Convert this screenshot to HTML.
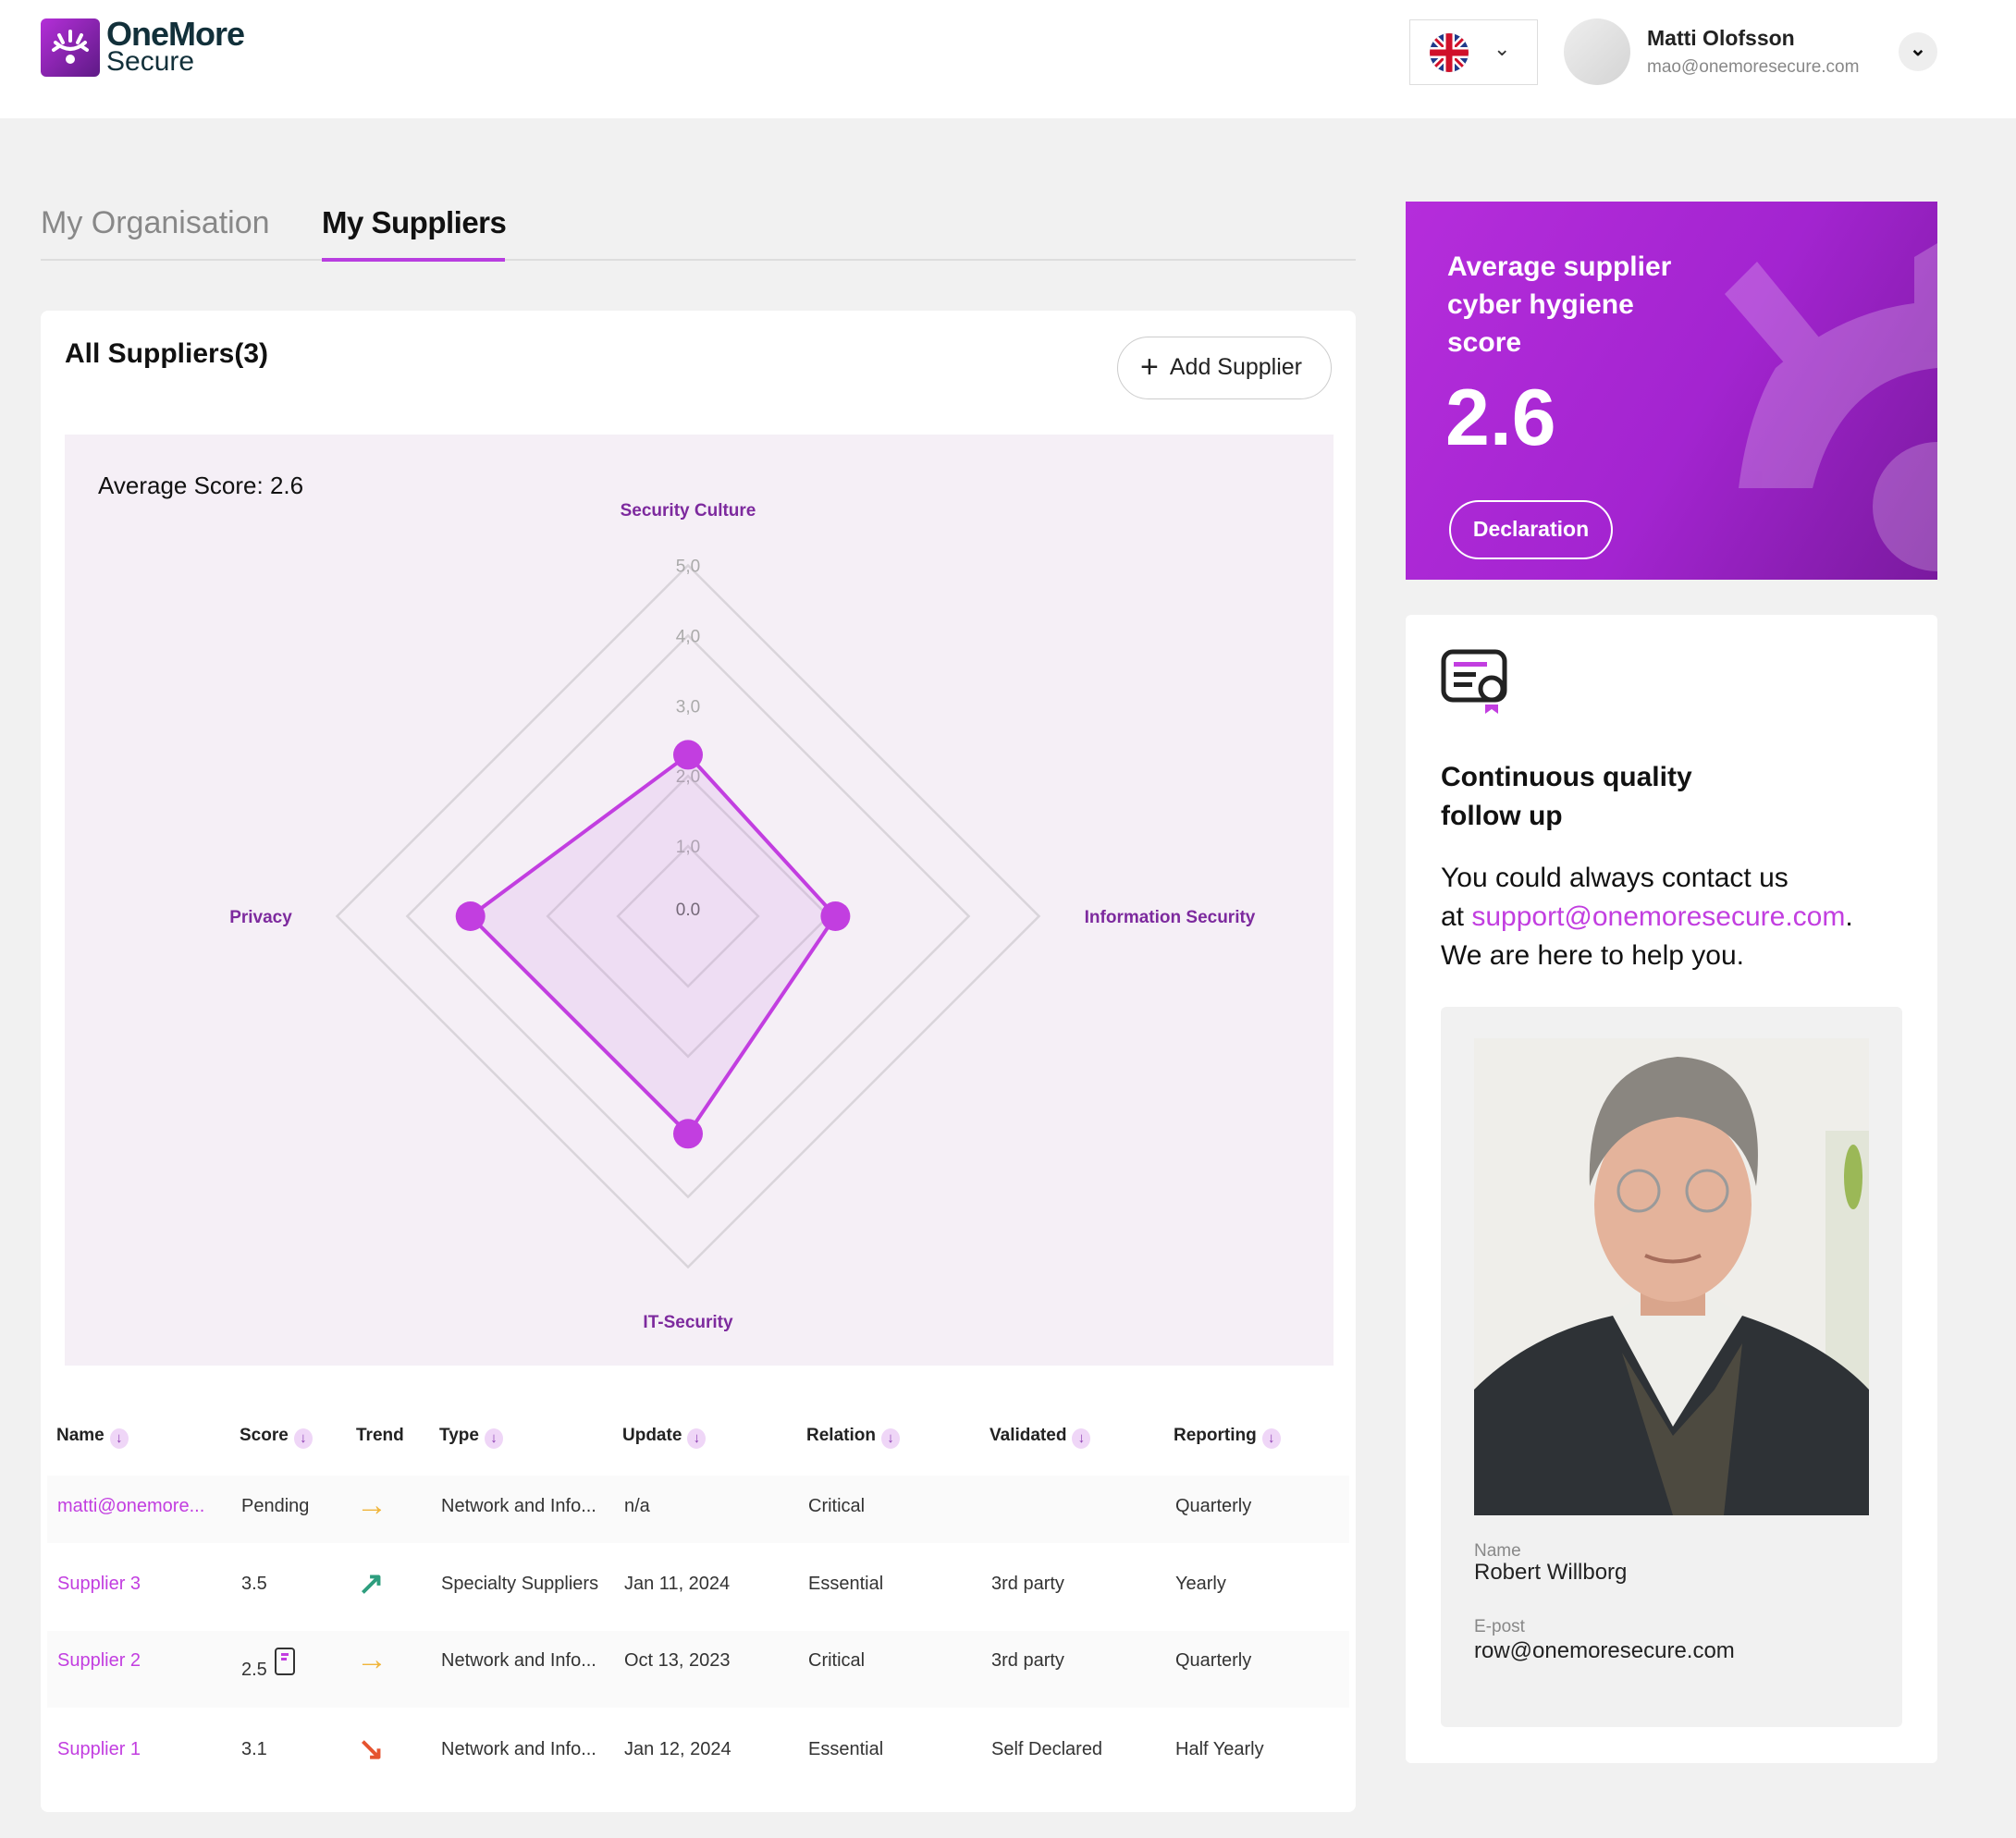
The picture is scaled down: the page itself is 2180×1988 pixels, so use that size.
<!DOCTYPE html>
<html><head><meta charset="utf-8">
<style>
*{box-sizing:border-box;margin:0;padding:0}
body{width:2180px;height:1988px;background:#f1f1f1;font-family:"Liberation Sans",sans-serif;color:#111;position:relative;overflow:hidden}
.abs{position:absolute}
.hdr{left:0;top:0;width:2180px;height:128px;background:#fff}
.th{position:absolute;top:1542px;font-size:19px;font-weight:bold;color:#222;white-space:nowrap}
.th .s{display:inline-block;width:20px;height:22px;border-radius:50%;background:#efd6f7;color:#8a3ab0;font-size:15px;text-align:center;line-height:22px;margin-left:6px;vertical-align:-2px}
.td{position:absolute;font-size:20px;color:#333;white-space:nowrap}
.arr{position:absolute;font-size:34px;font-weight:bold;line-height:34px}
.lnk{color:#c23ee0}
</style></head><body>
<div class="abs hdr">
  <div class="abs" style="left:44px;top:20px;width:64px;height:63px;border-radius:6px;background:linear-gradient(135deg,#b42fd8,#5e1a86)">
    <svg width="64" height="63" viewBox="0 0 64 63"><g stroke="#fff" stroke-width="4" fill="none" stroke-linecap="round"><path d="M16 26 Q32 40 48 26"/><path d="M20 18 L24 26"/><path d="M44 18 L40 26"/><path d="M14 34 L20 30"/><path d="M50 34 L44 30"/><path d="M32 14 L32 24"/></g><circle cx="32" cy="44" r="5" fill="#fff"/></svg>
  </div>
  <div class="abs" style="left:115px;top:18px;font-size:36px;font-weight:bold;color:#12303a;letter-spacing:-1px;line-height:38px">OneMore</div>
  <div class="abs" style="left:115px;top:50px;font-size:30px;color:#12303a;line-height:34px">Secure</div>
  <div class="abs" style="left:1524px;top:21px;width:139px;height:71px;border:1px solid #ddd;background:#fff">
    <svg class="abs" style="left:20px;top:13px" width="44" height="44" viewBox="0 0 44 44"><defs><clipPath id="c"><circle cx="22" cy="22" r="21"/></clipPath></defs><g clip-path="url(#c)"><rect width="44" height="44" fill="#1f3a8a"/><path d="M0 0L44 44M44 0L0 44" stroke="#fff" stroke-width="8"/><path d="M0 0L44 44M44 0L0 44" stroke="#d0102a" stroke-width="3"/><path d="M22 0V44M0 22H44" stroke="#fff" stroke-width="12"/><path d="M22 0V44M0 22H44" stroke="#d0102a" stroke-width="7"/></g></svg>
    <div class="abs" style="left:90px;top:18px;font-size:22px;color:#333">&#8964;</div>
  </div>
  <div class="abs" style="left:1691px;top:20px;width:72px;height:72px;border-radius:50%;background:linear-gradient(135deg,#eee,#d4d4d4)"></div>
  <div class="abs" style="left:1781px;top:28px;font-size:23px;font-weight:bold;color:#222">Matti Olofsson</div>
  <div class="abs" style="left:1781px;top:62px;font-size:19px;color:#888">mao@onemoresecure.com</div>
  <div class="abs" style="left:2053px;top:35px;width:42px;height:42px;border-radius:50%;background:#eee;text-align:center;font-size:22px;line-height:36px;font-weight:bold">&#8964;</div>
</div>

<div class="abs" style="left:44px;top:222px;font-size:34px;color:#888">My Organisation</div>
<div class="abs" style="left:348px;top:222px;font-size:33px;font-weight:bold;color:#111;letter-spacing:-0.5px">My Suppliers</div>
<div class="abs" style="left:44px;top:280px;width:1422px;height:2px;background:#ddd"></div>
<div class="abs" style="left:348px;top:279px;width:198px;height:4px;background:#b83ee0"></div>

<div class="abs" style="left:44px;top:336px;width:1422px;height:1624px;background:#fff;border-radius:8px"></div>
<div class="abs" style="left:70px;top:366px;font-size:30px;font-weight:bold">All Suppliers(3)</div>
<div class="abs" style="left:1208px;top:364px;width:232px;height:68px;border:1.5px solid #ccc;border-radius:34px;font-size:25px;color:#222;line-height:65px;padding-left:24px"><span style="font-size:34px;vertical-align:-3px;margin-right:12px">+</span>Add Supplier</div>

<div class="abs" style="left:70px;top:470px;width:1372px;height:1007px;background:#f5eff6"></div>
<div class="abs" style="left:106px;top:510px;font-size:26px;color:#111">Average Score: 2.6</div>
<svg class="abs" style="left:0;top:0" width="2180" height="1988" id="radar"></svg>

<div class="th" style="left:61px">Name<span class="s">↓</span></div>
<div class="th" style="left:259px">Score<span class="s">↓</span></div>
<div class="th" style="left:385px">Trend</div>
<div class="th" style="left:475px">Type<span class="s">↓</span></div>
<div class="th" style="left:673px">Update<span class="s">↓</span></div>
<div class="th" style="left:872px">Relation<span class="s">↓</span></div>
<div class="th" style="left:1070px">Validated<span class="s">↓</span></div>
<div class="th" style="left:1269px">Reporting<span class="s">↓</span></div>

<div class="abs" style="left:51px;top:1596px;width:1408px;height:73px;background:#fafafa"></div>
<div class="abs" style="left:51px;top:1764px;width:1408px;height:83px;background:#fafafa"></div>

<div>
<div class="td lnk" style="left:62px;top:1618px">matti@onemore...</div>
<div class="td" style="left:261px;top:1618px">Pending</div>
<div class="arr" style="left:385px;top:1611px;color:#f0b53a">→</div>
<div class="td" style="left:477px;top:1618px">Network and Info...</div>
<div class="td" style="left:675px;top:1618px">n/a</div>
<div class="td" style="left:874px;top:1618px">Critical</div>
<div class="td" style="left:1271px;top:1618px">Quarterly</div>
</div>
<div>
<div class="td lnk" style="left:62px;top:1702px">Supplier 3</div>
<div class="td" style="left:261px;top:1702px">3.5</div>
<div class="arr" style="left:387px;top:1696px;color:#2e9e7e">↗</div>
<div class="td" style="left:477px;top:1702px">Specialty Suppliers</div>
<div class="td" style="left:675px;top:1702px">Jan 11, 2024</div>
<div class="td" style="left:874px;top:1702px">Essential</div>
<div class="td" style="left:1072px;top:1702px">3rd party</div>
<div class="td" style="left:1271px;top:1702px">Yearly</div>
</div>
<div>
<div class="td lnk" style="left:62px;top:1785px">Supplier 2</div>
<div class="td" style="left:261px;top:1795px">2.5</div>
<div class="abs" style="left:297px;top:1782px;width:22px;height:30px;border:2.5px solid #333;border-radius:4px"><div style="position:absolute;left:5px;top:4px;width:8px;height:3px;background:#c23ee0"></div><div style="position:absolute;left:5px;top:9px;width:6px;height:3px;background:#c23ee0"></div></div>
<div class="arr" style="left:385px;top:1778px;color:#f0b53a">→</div>
<div class="td" style="left:477px;top:1785px">Network and Info...</div>
<div class="td" style="left:675px;top:1785px">Oct 13, 2023</div>
<div class="td" style="left:874px;top:1785px">Critical</div>
<div class="td" style="left:1072px;top:1785px">3rd party</div>
<div class="td" style="left:1271px;top:1785px">Quarterly</div>
</div>
<div>
<div class="td lnk" style="left:62px;top:1881px">Supplier 1</div>
<div class="td" style="left:261px;top:1881px">3.1</div>
<div class="arr" style="left:387px;top:1875px;color:#e5532f">↘</div>
<div class="td" style="left:477px;top:1881px">Network and Info...</div>
<div class="td" style="left:675px;top:1881px">Jan 12, 2024</div>
<div class="td" style="left:874px;top:1881px">Essential</div>
<div class="td" style="left:1072px;top:1881px">Self Declared</div>
<div class="td" style="left:1271px;top:1881px">Half Yearly</div>
</div>

<div class="abs" style="left:1520px;top:218px;width:575px;height:409px;background:linear-gradient(120deg,#b52ddb 0%,#a324d0 55%,#7a1a9f 100%);overflow:hidden">
  <svg class="abs" style="left:0;top:0" width="575" height="409"><g fill="#fff" opacity="0.22"><path d="M345 100 L380 65 L470 175 L440 210 Z"/><path d="M400 180 Q470 120 550 110 L550 60 L575 45 L575 180 Q470 190 440 310 L360 310 Q370 230 400 180Z"/><circle cx="575" cy="330" r="70"/></g></svg>
  <div class="abs" style="left:45px;top:50px;font-size:30px;font-weight:bold;color:#fff;line-height:41px">Average supplier<br>cyber hygiene<br>score</div>
  <div class="abs" style="left:43px;top:185px;font-size:86px;font-weight:bold;color:#fff">2.6</div>
  <div class="abs" style="left:47px;top:323px;width:177px;height:64px;border:2.5px solid #fff;border-radius:32px;color:#fff;font-size:23px;font-weight:bold;text-align:center;line-height:59px">Declaration</div>
</div>

<div class="abs" style="left:1520px;top:665px;width:575px;height:1242px;background:#fff;border-radius:6px">
  <svg class="abs" style="left:38px;top:37px" width="74" height="74" viewBox="0 0 74 74"><rect x="3" y="3" width="66" height="52" rx="10" fill="none" stroke="#222" stroke-width="5"/><rect x="14" y="14" width="36" height="5" fill="#c23ee0"/><rect x="14" y="25" width="24" height="5" fill="#222"/><rect x="14" y="36" width="20" height="5" fill="#222"/><circle cx="55" cy="43" r="12" fill="#fff" stroke="#222" stroke-width="5"/><path d="M48 60 L48 70 L55 65 L62 70 L62 60" fill="#c23ee0"/></svg>
  <div class="abs" style="left:38px;top:155px;font-size:30px;font-weight:bold;line-height:42px">Continuous quality<br>follow up</div>
  <div class="abs" style="left:38px;top:264px;font-size:30px;line-height:42px;color:#111">You could always contact us<br>at <span class="lnk">support@onemoresecure.com</span>.<br>We are here to help you.</div>
  <div class="abs" style="left:38px;top:424px;width:499px;height:779px;background:#f1f1f1;border-radius:6px">
    <svg class="abs" style="left:36px;top:34px" width="427" height="516" viewBox="0 0 427 516">
      <rect width="427" height="516" fill="#efeeea"/><rect x="380" y="100" width="47" height="300" fill="#e2e5d8"/><ellipse cx="410" cy="150" rx="10" ry="35" fill="#9bb857"/>
      <path d="M0 380 Q60 320 150 300 L290 300 Q380 330 427 380 L427 516 L0 516Z" fill="#2e3236"/>
      <path d="M150 300 L215 420 L290 300 L260 280 L175 280Z" fill="#eeeeea"/>
      <path d="M160 340 L215 516 L270 516 L290 330 L260 380 L215 430 Z" fill="#4d4a40"/>
      <rect x="180" y="250" width="70" height="50" fill="#d9a58c"/>
      <ellipse cx="215" cy="180" rx="85" ry="105" fill="#e4b39b"/>
      <path d="M125 160 Q120 30 220 20 Q320 25 305 160 Q290 90 220 85 Q150 90 125 160Z" fill="#8a8680"/>
      <circle cx="178" cy="165" r="22" fill="none" stroke="#9a9a9a" stroke-width="3"/><circle cx="252" cy="165" r="22" fill="none" stroke="#9a9a9a" stroke-width="3"/>
      <path d="M185 235 Q215 248 245 235" stroke="#a66d5c" stroke-width="4" fill="none"/>
    </svg>
    <div class="abs" style="left:36px;top:578px;font-size:19px;color:#888">Name</div>
    <div class="abs" style="left:36px;top:598px;font-size:24px;color:#222">Robert Willborg</div>
    <div class="abs" style="left:36px;top:660px;font-size:19px;color:#888">E-post</div>
    <div class="abs" style="left:36px;top:683px;font-size:24px;color:#222">row@onemoresecure.com</div>
  </div>
</div>

<script>
const axes = ["Security Culture","Information Security","IT-Security","Privacy"];
const values = [2.3, 2.1, 3.1, 3.1];
const ringLevels = [1, 2, 4, 5];
const tickLabels = ["0.0","1,0","2,0","3,0","4,0","5,0"];
const tickValues = [0, 1, 2, 3, 4, 5];
const NS = "http://www.w3.org/2000/svg";
const svg = document.getElementById('radar');
const cx = 744, cy = 991, unit = 75.9;
const labelDist = [440, 521, 438, 462];
function pt(i, v){ const a = -Math.PI/2 + i*2*Math.PI/axes.length; return [cx + Math.cos(a)*v*unit, cy + Math.sin(a)*v*unit]; }
function mk(tag, attrs){ const e = document.createElementNS(NS, tag); for (const k in attrs) e.setAttribute(k, attrs[k]); svg.appendChild(e); return e; }
ringLevels.forEach(l => {
  const p = mk('polygon', {points: axes.map((_, i) => pt(i, l).join(',')).join(' '), fill: 'none', stroke: '#d9d4da', 'stroke-width': 2.5});
  
  
});
tickValues.forEach((t, k) => {
  const y = t === 0 ? cy - 1 : cy - t*unit + 7;
  const tx = mk('text', {x: cx, y: y, 'text-anchor': 'middle', 'font-size': 19, fill: t === 0 ? '#666' : '#aaa', 'font-family': 'Liberation Sans, sans-serif'});
  tx.textContent = tickLabels[k];
  
  
});
const poly = mk('polygon', {points: values.map((v, i) => pt(i, v).join(',')).join(' '), fill: 'rgba(200,120,230,0.15)', stroke: '#c23ee0', 'stroke-width': 4, 'stroke-linejoin': 'round'});


values.forEach((v, i) => {
  const [x, y] = pt(i, v);
  const c = mk('circle', {cx: x, cy: y, r: 16, fill: '#c23ee0'});
  
  
});
axes.forEach((name, i) => {
  const a = -Math.PI/2 + i*2*Math.PI/axes.length;
  const x = cx + Math.cos(a)*labelDist[i], y = cy + Math.sin(a)*labelDist[i] + 7;
  const tx = mk('text', {x: x, y: y, 'text-anchor': 'middle', 'font-size': 19, 'font-weight': 'bold', fill: '#7d2a9e', 'font-family': 'Liberation Sans, sans-serif'});
  tx.textContent = name;
  
  
});
</script>
</body></html>
